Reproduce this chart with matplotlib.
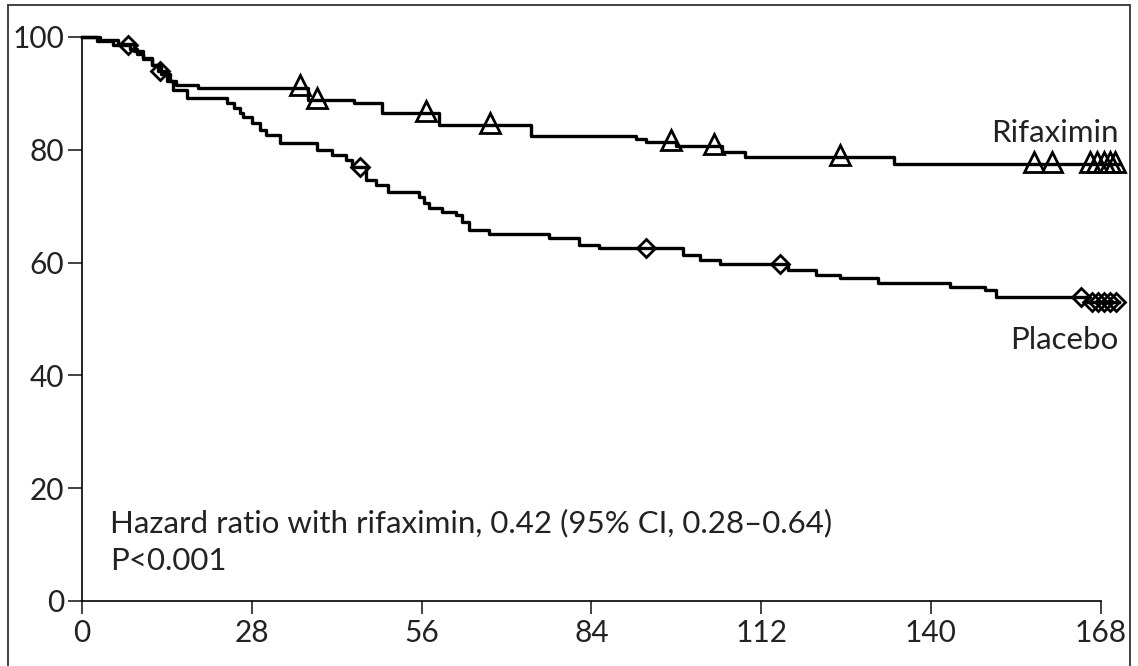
import numpy as np
import matplotlib
matplotlib.use('Agg')
from matplotlib import pyplot as plt
from matplotlib.patches import Rectangle

plt.rcParams['font.family'] = ['Lato', 'DejaVu Sans']

# Kaplan-Meier steps (day, % free of event after the step)
rif_t = [0, 3, 6, 8.5, 10, 11.5, 13, 14.5, 15.5, 19.1, 37.2, 44.9, 49.4, 58.9, 74.0,
         91.3, 93.0, 98.0, 105.5, 109.4, 134.0, 171.0]
rif_s = [100, 99.5, 98.8, 97.5, 96.3, 95.0, 93.5, 92.2, 91.5, 91.0, 88.8, 88.3, 86.5, 84.4, 82.4,
         81.9, 81.4, 80.6, 79.6, 78.7, 77.5, 77.5]
rif_cens = [36.0, 38.8, 56.8, 67.3, 97.1, 104.2, 125.0, 157.0, 160.0,
            166.3, 167.4, 168.5, 169.5, 170.4]

pla_t = [0, 2.4, 5.1, 7.9, 9, 10, 11.5, 12.5, 14, 15, 17.3, 23.9, 25, 26, 26.5, 28, 29.3, 30.4,
         32.6, 38.8, 41.3, 43.6, 44.6, 46.9, 48.5, 50.4, 55.6, 56.4, 57.3, 59.4, 61.7, 62.7,
         63.8, 67.1, 77, 82, 85.2, 99.2, 102, 105.3, 116.5, 121.1, 125, 131.3, 143.2, 149,
         150.7, 165.8, 171.0]
pla_s = [100, 99.3, 98.6, 97.8, 97.0, 96.0, 95.0, 94.0, 92.2, 90.5, 89.2, 88.3, 87.4, 86.5, 85.8,
         84.7, 83.5, 82.6, 81.2, 80.0, 79.1, 78.2, 77.0, 74.6, 73.8, 72.5, 71.6, 70.6, 69.7,
         69.0, 68.4, 67.2, 65.8, 65.1, 64.4, 63.1, 62.5, 61.3, 60.5, 59.8, 58.7, 57.8, 57.3,
         56.4, 55.7, 55.1, 53.9, 53.0, 53.0]
pla_cens = [7.6, 12.8, 45.8, 93.0, 115.2, 164.8, 166.6, 167.6, 168.6, 169.6, 170.5]

xticks = [0, 28, 56, 84, 112, 140, 168]
yticks = [0, 20, 40, 60, 80, 100]


def at(t, s, c):
    idx = np.searchsorted(t, c, side='right') - 1
    return np.array(s)[idx]


fig = plt.figure(figsize=(11.38, 6.66), dpi=100)
ax = fig.add_axes([0.0721, 0.0976, 0.919, 0.864])

ax.step(rif_t, rif_s, where='post', color='black', lw=2.4, clip_on=False, zorder=3)
ax.step(pla_t, pla_s, where='post', color='black', lw=2.4, clip_on=False, zorder=3)
ax.plot(rif_cens, at(rif_t, rif_s, rif_cens) + 0.4, ls='none', marker='^', ms=14,
        mfc='none', mec='black', mew=2.0, clip_on=False, zorder=4)
ax.plot(pla_cens, at(pla_t, pla_s, pla_cens), ls='none', marker='D', ms=9.5,
        mfc='none', mec='black', mew=2.0, clip_on=False, zorder=4)

ax.set_xlim(0, 172.5)
ax.set_ylim(0, 102)
ax.set_xticks(xticks)
ax.set_yticks(yticks)
ax.spines['top'].set_visible(False)
ax.spines['right'].set_visible(False)
ax.spines['bottom'].set_bounds(0, 168)
ax.spines['left'].set_bounds(0, 100)
for s in ('left', 'bottom'):
    ax.spines[s].set_linewidth(1.2)
ax.tick_params(axis='both', direction='out', width=1.2, labelsize=21.5,
               color='#222222', labelcolor='#222222')
ax.tick_params(axis='y', length=10, pad=3)
ax.tick_params(axis='x', length=9, pad=4)

ax.text(171, 83, 'Rifaximin', ha='right', va='center', fontsize=22.5, color='#222222')
ax.text(171, 46.3, 'Placebo', ha='right', va='center', fontsize=22.5, color='#222222')
ax.text(4.6, 16.3, 'Hazard ratio with rifaximin, 0.42 (95% CI, 0.28\u20130.64)\nP<0.001',
        ha='left', va='top', fontsize=22.5, color='#222222', linespacing=1.42)

# outer frame
fig.patches.append(Rectangle((8 / 1138, -0.05), 1122 / 1138, 1.05 - 5 / 666,
                             transform=fig.transFigure, fill=False, lw=1.3, ec='#333333'))

fig.savefig('out.png', dpi=100)
